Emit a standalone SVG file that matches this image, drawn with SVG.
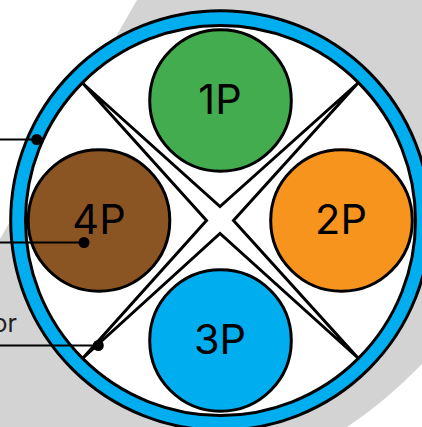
<svg xmlns="http://www.w3.org/2000/svg" width="422" height="427" viewBox="0 0 422 427">
<style>
.k{stroke:#000;stroke-width:3}
.t{font-family:Inter,"Liberation Sans",sans-serif;font-size:41.500px;fill:#000;text-anchor:middle}
.c{stroke:#000;stroke-width:2.200;fill:none}
</style>
<rect width="422" height="427" fill="#fff"/>
<path id="jacket" d="M137 0H422V364Q385 402 347 427H0V239Z" fill="#d3d3d3"/>
<g id="cable">
<circle cx="220.500" cy="220.500" r="209.800" fill="#00aeef" class="k"/>
<circle cx="220.500" cy="220.500" r="195" fill="#fff" class="k"/>
<polygon points="83,83.500 220,206.500 358,83 233.500,220.500 358,358 220,233.500 83,358 206.500,220.500" fill="#fff" class="k"/>
</g>
<g id="p1"><circle cx="220.500" cy="100.500" r="70.800" fill="#43ac4e" class="k"/><text x="220" y="113.500" class="t">1P</text></g>
<g id="p2"><circle cx="341.500" cy="220.500" r="70.800" fill="#f7941e" class="k"/><text x="341" y="233.500" class="t">2P</text></g>
<g id="p3"><circle cx="220.500" cy="340.500" r="70.800" fill="#00aeef" class="k"/><text x="220" y="353.500" class="t">3P</text></g>
<g id="p4"><circle cx="99" cy="220.500" r="70.800" fill="#8b5523" class="k"/><text x="99" y="233.500" class="t">4P</text></g>
<text x="17" y="332" style="font-family:Inter,'Liberation Sans',sans-serif;font-size:25px;fill:#222;text-anchor:end">or</text>
<g id="connectors">
<path class="c" d="M0 139.500H37M0 242.500H84M0 345.500H98"/>
<circle cx="36.700" cy="139.500" r="5.500"/>
<circle cx="84" cy="242.500" r="5.500"/>
<circle cx="98.300" cy="345.500" r="5.500"/>
</g>
</svg>
